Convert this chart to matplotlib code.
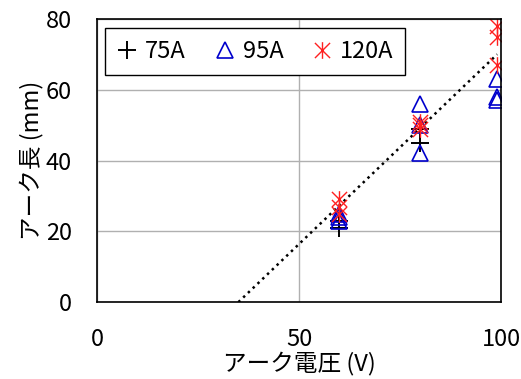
import matplotlib.pyplot as plt
import numpy as np
from matplotlib.path import Path

plt.rcParams['font.family'] = ['Noto Sans CJK JP', 'DejaVu Sans']

# arc voltage (V) and arc length (mm) per welding current
v_75 = [60, 60, 80, 80]
l_75 = [21, 23, 45, 49]
v_95 = [60, 60, 60, 80, 80, 80, 99, 99, 99]
l_95 = [23, 24, 25, 42, 50, 56, 57, 58, 63]
v_120 = [60, 60, 60, 80, 80, 80, 99, 99, 99]
l_120 = [25, 27, 29, 49, 50, 51, 67, 75, 78]

# trend line: y = slope * x + intercept
slope, intercept = 1.094, -38.3
trend_x = [35, 99]

# asterisk marker like the spreadsheet one (x + vertical bar)
star = Path([(-1, -1), (1, 1), (-1, 1), (1, -1), (0, -1.1), (0, 1.1)],
            [Path.MOVETO, Path.LINETO, Path.MOVETO, Path.LINETO, Path.MOVETO, Path.LINETO])

fig = plt.figure(figsize=(5.21, 3.79), dpi=100)
ax = fig.add_axes([0.186, 0.203, 0.776, 0.747])

ax.plot(v_75, l_75, ls='none', marker='+', ms=13, mew=1.4, color='black', label='75A')
ax.plot(v_95, l_95, ls='none', marker='^', ms=11, mew=1.2, mfc='none', mec='#0000cc', label='95A')
ax.plot(v_120, l_120, ls='none', marker=star, ms=12, mew=1.0, color='#ff2020', label='120A')

xt = np.array(trend_x, dtype=float)
ax.plot(xt, slope * xt + intercept, ls=':', color='black', lw=1.8, zorder=1)

ax.set_xlim(0, 100)
ax.set_ylim(0, 80)
ax.set_xticks([0, 50, 100])
ax.set_yticks([0, 20, 40, 60, 80])
ax.tick_params(length=0, labelsize=17)
ax.tick_params(axis='y', pad=18)
ax.tick_params(axis='x', pad=19)
ax.grid(color='#b0b0b0', lw=1)
ax.set_axisbelow(True)
for s in ax.spines.values():
    s.set_color('black')
    s.set_linewidth(1.2)

ax.set_xlabel('アーク電圧 (V)', fontsize=17, labelpad=0)
ax.set_ylabel('アーク長 (mm)', fontsize=17, labelpad=2)

leg = ax.legend(loc='upper left', ncol=3, fontsize=17, frameon=True, fancybox=False,
                edgecolor='black', framealpha=1, handlelength=0.9, handletextpad=0.3,
                columnspacing=1.2, borderpad=0.5, borderaxespad=0,
                bbox_to_anchor=(0.02, 0.968))
leg.get_frame().set_linewidth(1.0)

fig.savefig('out.png', dpi=100)
